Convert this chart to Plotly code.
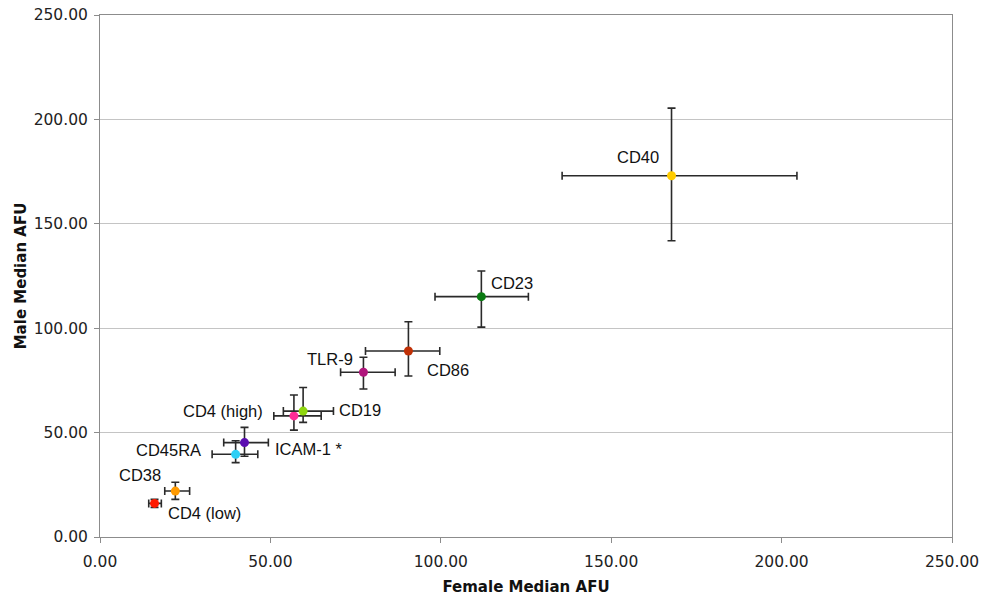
import plotly.graph_objects as go

markers = ["CD4 (low)", "CD38", "CD45RA", "ICAM-1 *", "CD4 (high)", "CD19", "TLR-9", "CD86", "CD23", "CD40"]
female = [16.0, 22.1, 39.8, 42.4, 56.9, 59.6, 77.3, 90.5, 111.9, 167.7]
male = [16.1, 22.0, 39.6, 45.2, 58.0, 60.3, 78.9, 89.1, 115.1, 173.0]
female_err_plus = [2.0, 4.2, 6.5, 7.0, 8.0, 8.9, 9.3, 9.2, 13.8, 36.8]
female_err_minus = [1.7, 3.1, 6.9, 6.1, 5.9, 5.8, 6.7, 12.6, 13.6, 32.1]
male_err_plus = [1.9, 4.2, 6.5, 7.3, 10.0, 11.3, 7.2, 14.0, 12.3, 32.4]
male_err_minus = [1.9, 4.0, 4.0, 6.5, 6.8, 5.4, 8.0, 12.0, 14.6, 31.1]
colors = ["#ff1a00", "#ff9a00", "#2ecff5", "#5a0cb0", "#ff2d96", "#8fd60f", "#b0157c", "#c03006", "#0a7a12", "#ffcc00"]

x_ticks = [0, 50, 100, 150, 200, 250]
y_ticks = [0, 50, 100, 150, 200, 250]
x_tick_text = ["0.00", "50.00", "100.00", "150.00", "200.00", "250.00"]
y_tick_text = ["0.00", "50.00", "100.00", "150.00", "200.00", "250.00"]

# label placement (pixels): anchor, xshift, yshift
label_pos = [
    ("left", 11, -10),
    ("right", -12, 16),
    ("right", -33, 4),
    ("left", 28, -6),
    ("right", -29, 5),
    ("left", 34, 1),
    ("right", -8, 13),
    ("left", 17, -19),
    ("left", 8, 14),
    ("right", -11, 19),
]

fig = go.Figure()
for i, name in enumerate(markers):
    fig.add_trace(go.Scatter(
        x=[female[i]], y=[male[i]], mode="markers", name=name,
        marker=dict(color=colors[i], size=9),
        error_x=dict(type="data", symmetric=False, array=[female_err_plus[i]],
                     arrayminus=[female_err_minus[i]], color="#2a2a2a", thickness=1.6, width=4),
        error_y=dict(type="data", symmetric=False, array=[male_err_plus[i]],
                     arrayminus=[male_err_minus[i]], color="#2a2a2a", thickness=1.6, width=4),
        showlegend=False,
    ))

for i, name in enumerate(markers):
    anc, xs, ys = label_pos[i]
    fig.add_annotation(x=female[i], y=male[i], text=name, showarrow=False,
                       xanchor=anc, yanchor="middle", xshift=xs, yshift=ys,
                       font=dict(family="Liberation Sans, Arial", size=16.5, color="#111111"))

tick_font = dict(family="DejaVu Sans, Verdana", size=15.5, color="#222222")
title_font = dict(family="DejaVu Sans, Verdana", size=15, color="#111111")
fig.update_layout(
    width=987, height=601,
    margin=dict(l=100, r=35, t=15, b=64),
    paper_bgcolor="white", plot_bgcolor="white",
    xaxis=dict(range=[0, 250], tickvals=x_ticks, ticktext=x_tick_text,
               showgrid=False, zeroline=False, automargin=False,
               showline=True, linecolor="#8c8c8c", linewidth=1, mirror=True,
               ticks="outside", ticklen=5, tickcolor="#8c8c8c",
               tickfont=tick_font, ticklabelstandoff=5,
               title=dict(text="<b>Female Median AFU</b>", font=title_font, standoff=11)),
    yaxis=dict(range=[0, 250], tickvals=y_ticks, ticktext=y_tick_text,
               showgrid=True, gridcolor="#c4c4c4", gridwidth=1, zeroline=False, automargin=False,
               showline=True, linecolor="#8c8c8c", linewidth=1, mirror=True,
               ticks="outside", ticklen=5, tickcolor="#8c8c8c",
               tickfont=tick_font, ticklabelstandoff=3,
               title=dict(text="<b>Male Median AFU</b>", font=title_font, standoff=3)),
)

fig.write_html("out.html")
